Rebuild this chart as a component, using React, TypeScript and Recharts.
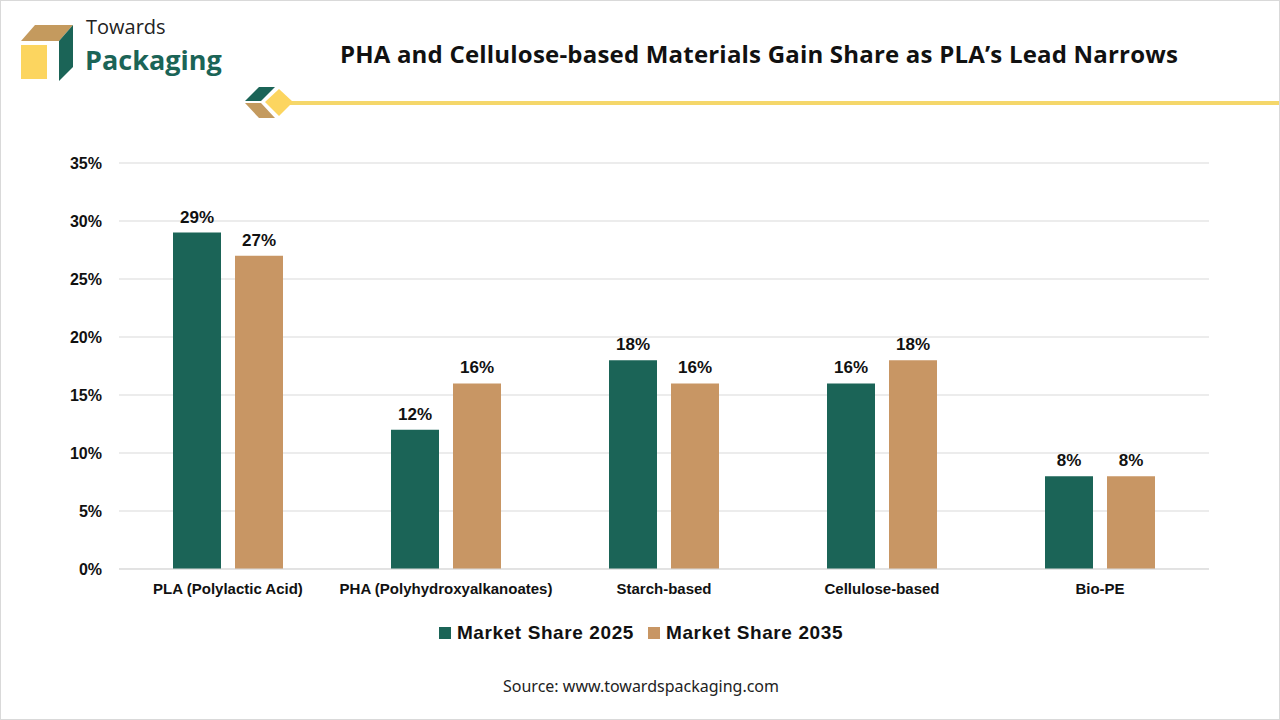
import React from "react";
import { Bar, BarChart, CartesianGrid, LabelList, XAxis, YAxis } from "recharts";

const categories = [
  "PLA (Polylactic Acid)",
  "PHA (Polyhydroxyalkanoates)",
  "Starch-based",
  "Cellulose-based",
  "Bio-PE",
];
const share2025 = [29, 12, 18, 16, 8];
const share2035 = [27, 16, 16, 18, 8];
const yTicks = [0, 5, 10, 15, 20, 25, 30, 35];

const GREEN = "#1b6457";
const TAN = "#c89664";
const FONT = "'Liberation Sans', Arial, sans-serif";

const data = categories.map((name, i) => ({
  name,
  s2025: share2025[i],
  s2035: share2035[i],
}));

function Logo() {
  return (
    <svg width={60} height={60} style={{ position: "absolute", left: 16, top: 22 }}>
      <polygon points="4,18 42,18 56,2 18,2" fill="#c49a5e" />
      <rect x={4} y={22} width={26} height={34} fill="#fcd55f" />
      <polygon points="42,18 56,2 56,44 42,58" fill={GREEN} />
    </svg>
  );
}

function Ornament() {
  return (
    <svg width={1040} height={40} style={{ position: "absolute", left: 240, top: 82 }}>
      <rect x={45} y={18} width={995} height={4} fill="#f5d76a" />
      <polygon points="4,18 18,4 34,4 20,18" fill={GREEN} />
      <polygon points="4,20 20,20 34,35 18,35" fill="#c49a5e" />
      <polygon points="24,19 38,6 52,19 38,33" fill="#fcd55f" />
    </svg>
  );
}

function LegendBox() {
  const items = [
    { label: "Market Share 2025", color: GREEN },
    { label: "Market Share 2035", color: TAN },
  ];
  return (
    <div
      style={{
        position: "absolute",
        left: 0,
        width: 1280,
        top: 620,
        display: "flex",
        justifyContent: "center",
        gap: 14,
        fontFamily: FONT,
      }}
    >
      {items.map((it) => (
        <div key={it.label} style={{ display: "flex", alignItems: "center", gap: 6 }}>
          <span style={{ width: 12, height: 12, background: it.color, display: "inline-block" }} />
          <span style={{ fontSize: 19, fontWeight: 700, color: "#111", letterSpacing: 0.6, lineHeight: "24px" }}>
            {it.label}
          </span>
        </div>
      ))}
    </div>
  );
}

export default function App() {
  const labelStyle = { fontSize: 17, fontWeight: 700, fill: "#111", fontFamily: FONT };
  return (
    <div
      style={{
        position: "absolute",
        left: 0,
        top: 0,
        width: 1280,
        height: 720,
        background: "#fff",
        boxSizing: "border-box",
        border: "1px solid #d9d9d9",
        overflow: "hidden",
      }}
    >
      <Logo />
      <div
        style={{
          position: "absolute",
          left: 85,
          top: 15,
          fontFamily: "'Open Sans', sans-serif",
          fontSize: 20,
          color: "#222",
          lineHeight: "22px",
        }}
      >
        Towards
      </div>
      <div
        style={{
          position: "absolute",
          left: 84,
          top: 45,
          fontFamily: "'Open Sans', sans-serif",
          fontSize: 27,
          fontWeight: 700,
          color: GREEN,
          lineHeight: "28px",
        }}
      >
        Packaging
      </div>
      <Ornament />
      <div
        style={{
          position: "absolute",
          left: 240,
          width: 1036,
          top: 37,
          textAlign: "center",
          fontFamily: "'Open Sans', sans-serif",
          fontSize: 24,
          fontWeight: 700,
          color: "#111",
          lineHeight: "32px",
          letterSpacing: 0.2,
        }}
      >
        PHA and Cellulose-based Materials Gain Share as PLA’s Lead Narrows
      </div>

      <div style={{ position: "absolute", left: 0, top: 0 }}>
        <BarChart
          width={1280}
          height={720}
          data={data}
          margin={{ top: 162, right: 72, bottom: 112, left: 58 }}
          barCategoryGap={54}
          barGap={14}
        >
          <CartesianGrid vertical={false} stroke="#d9d9d9" />
          <XAxis
            dataKey="name"
            axisLine={{ stroke: "#d9d9d9" }}
            tickLine={false}
            height={40}
            tickMargin={8}
            interval={0}
            tick={{ fontSize: 15, fontWeight: 700, fill: "#111", fontFamily: FONT }}
          />
          <YAxis
            width={60}
            domain={[0, 35]}
            ticks={yTicks}
            axisLine={false}
            tickLine={false}
            tickMargin={11}
            tickFormatter={(v) => `${v}%`}
            tick={{ fontSize: 16, fontWeight: 700, fill: "#111", fontFamily: FONT }}
          />
          <Bar dataKey="s2025" name="Market Share 2025" fill={GREEN} isAnimationActive={false}>
            <LabelList
              dataKey="s2025"
              position="top"
              offset={10}
              formatter={(v) => `${v}%`}
              style={labelStyle}
            />
          </Bar>
          <Bar dataKey="s2035" name="Market Share 2035" fill={TAN} isAnimationActive={false}>
            <LabelList
              dataKey="s2035"
              position="top"
              offset={10}
              formatter={(v) => `${v}%`}
              style={labelStyle}
            />
          </Bar>
        </BarChart>
      </div>

      <LegendBox />

      <div
        style={{
          position: "absolute",
          left: 0,
          width: 1280,
          top: 674,
          textAlign: "center",
          fontFamily: "'Noto Sans', sans-serif",
          fontSize: 16,
          color: "#222",
        }}
      >
        Source: www.towardspackaging.com
      </div>
    </div>
  );
}
